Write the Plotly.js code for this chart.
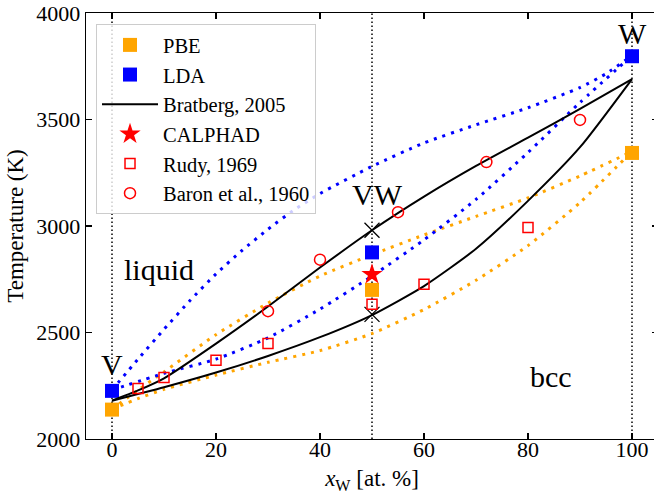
<!DOCTYPE html>
<html>
<head>
<meta charset="utf-8">
<script src="https://cdn.plot.ly/plotly-3.0.1.min.js"></script>
<style>
html, body { margin: 0; padding: 0; overflow: hidden; background: #fff; }
#chart { width: 658px; height: 496px; }
</style>
</head>
<body>
<div id="chart"></div>
<script>
// ---- data ----
const vlineX = [0, 50, 100];
const yRange = [2000, 4000];

// PBE model curves (dotted orange)
const pbeUpX = [0, 5, 10, 20, 30, 40, 50, 60, 70, 80, 90, 100];
const pbeUpT = [2140, 2230, 2315, 2490, 2638, 2765, 2865, 2958, 3045, 3132, 3235, 3350];
const pbeLoX = [0, 5, 10, 20, 30, 40, 50, 60, 70, 80, 90, 100];
const pbeLoT = [2140, 2190, 2233, 2300, 2360, 2415, 2495, 2608, 2745, 2908, 3110, 3350];

// LDA model curves (dotted blue)
const ldaUpX = [0, 5, 10, 15, 20, 25, 30, 35, 40, 50, 60, 70, 80, 90, 95, 100];
const ldaUpT = [2230, 2375, 2515, 2650, 2775, 2885, 2985, 3075, 3152, 3280, 3390, 3475, 3555, 3650, 3715, 3800];
const ldaLoX = [0, 10, 20, 30, 40, 50, 60, 70, 80, 90, 100];
const ldaLoT = [2230, 2308, 2375, 2475, 2610, 2765, 2935, 3125, 3345, 3580, 3800];

// Bratberg, 2005 (solid black)
const bratLiqX = [0, 5, 10, 20, 30, 40, 50, 60, 70, 80, 90, 100];
const bratLiqT = [2180, 2228, 2285, 2448, 2622, 2805, 2980, 3138, 3282, 3415, 3550, 3690];
const bratSolX = [0, 10, 20, 30, 40, 50, 60, 70, 80, 90, 100];
const bratSolT = [2180, 2243, 2312, 2390, 2478, 2582, 2718, 2893, 3118, 3370, 3690];
const bratCrossX = [50, 50];
const bratCrossT = [2980, 2585];

// markers
const pbeX = [0, 50, 100];
const pbeT = [2138, 2700, 3343];
const ldaX = [0, 50, 100];
const ldaT = [2226, 2876, 3797];
const calphadX = [50];
const calphadT = [2773];
const rudyX = [5, 10, 20, 30, 50, 60, 80];
const rudyT = [2237, 2289, 2370, 2448, 2633, 2726, 2993];
const baronX = [30, 40, 55, 72, 90];
const baronT = [2600, 2842, 3065, 3300, 3498];

// labels
const labelText = ['V', 'VW', 'W', 'liquid', 'bcc'];
const labelX = [0, 51, 100, 2, 84.4];
const labelT = [2351, 3148, 3904, 2797, 2295];
const labelAnchor = ['center', 'center', 'center', 'left', 'center'];

// ---- build traces ----
const FONT = 'Liberation Serif, Times New Roman, serif';
const ORANGE = '#FFA500', BLUE = '#0000FF', RED = '#FF0000';
const DOTS = '3px,6px';
const traces = [];

vlineX.forEach(v => traces.push({
  x: [v, v], y: yRange, mode: 'lines', showlegend: false, hoverinfo: 'skip',
  line: {color: '#000', width: 1.5, dash: '1.5px,2.5px'}
}));

function curve(x, y, color, dash, width) {
  return {x: x, y: y, mode: 'lines', showlegend: false, hoverinfo: 'skip',
    line: {color: color, width: width, dash: dash, shape: 'spline', smoothing: 0.6}};
}
traces.push(curve(pbeUpX, pbeUpT, ORANGE, DOTS, 3));
traces.push(curve(pbeLoX, pbeLoT, ORANGE, DOTS, 3));
traces.push(curve(ldaUpX, ldaUpT, BLUE, DOTS, 3));
traces.push(curve(ldaLoX, ldaLoT, BLUE, DOTS, 3));

traces.push({x: pbeX, y: pbeT, mode: 'markers', name: 'PBE',
  marker: {symbol: 'square', size: 14, color: ORANGE}});
traces.push({x: ldaX, y: ldaT, mode: 'markers', name: 'LDA',
  marker: {symbol: 'square', size: 14, color: BLUE}});

const liq = curve(bratLiqX, bratLiqT, '#000', 'solid', 2);
liq.name = 'Bratberg, 2005'; liq.showlegend = true; liq.legendgroup = 'brat';
traces.push(liq);
const sol = curve(bratSolX, bratSolT, '#000', 'solid', 2);
sol.legendgroup = 'brat';
traces.push(sol);
traces.push({x: bratCrossX, y: bratCrossT, mode: 'markers', showlegend: false, hoverinfo: 'skip',
  marker: {symbol: 'x-thin', size: 15, line: {color: '#000', width: 1.3}}});

traces.push({x: calphadX, y: calphadT, mode: 'markers', name: 'CALPHAD',
  marker: {symbol: 'star', size: 16, color: RED}});
traces.push({x: rudyX, y: rudyT, mode: 'markers', name: 'Rudy, 1969',
  marker: {symbol: 'square-open', size: 10, color: RED, line: {width: 1.5, color: RED}}});
traces.push({x: baronX, y: baronT, mode: 'markers', name: 'Baron et al., 1960',
  marker: {symbol: 'circle-open', size: 11, color: RED, line: {width: 1.5, color: RED}}});

const annotations = labelText.map((t, i) => ({
  x: labelX[i], y: labelT[i], text: t, showarrow: false,
  xanchor: labelAnchor[i], yanchor: 'middle',
  font: {family: FONT, size: 30, color: '#000'}
}));

const axisCommon = {
  showgrid: false, zeroline: false, showline: true, linecolor: '#000', linewidth: 1.3,
  mirror: 'allticks', ticks: 'inside', ticklen: 6, tickwidth: 1.2, tickcolor: '#000',
  tickfont: {family: FONT, size: 22, color: '#000'}
};

const layout = {
  width: 658, height: 496,
  margin: {l: 86, r: 0, t: 13, b: 57},
  paper_bgcolor: '#fff', plot_bgcolor: '#fff',
  font: {family: FONT, color: '#000'},
  showlegend: true,
  legend: {
    x: 0.0175, y: 0.974, xanchor: 'left', yanchor: 'top',
    bgcolor: 'rgba(255,255,255,0.8)', bordercolor: '#cccccc', borderwidth: 1,
    font: {family: FONT, size: 20.5, color: '#000'},
    itemwidth: 56, traceorder: 'normal'
  },
  xaxis: Object.assign({}, axisCommon, {
    range: [-5, 105], tickvals: [0, 20, 40, 60, 80, 100], ticklabelstandoff: -10,
    title: {text: '<i>x</i><sub>W</sub> [at. %]', font: {family: FONT, size: 23, color: '#000'}, standoff: 9}
  }),
  yaxis: Object.assign({}, axisCommon, {
    range: [2000, 4000], tickvals: [2000, 2500, 3000, 3500, 4000],
    title: {text: 'Temperature (K)', font: {family: FONT, size: 23, color: '#000'}, standoff: 6}
  }),
  annotations: annotations
};

Plotly.newPlot('chart', traces, layout, {displayModeBar: false, staticPlot: true});
</script>
</body>
</html>
